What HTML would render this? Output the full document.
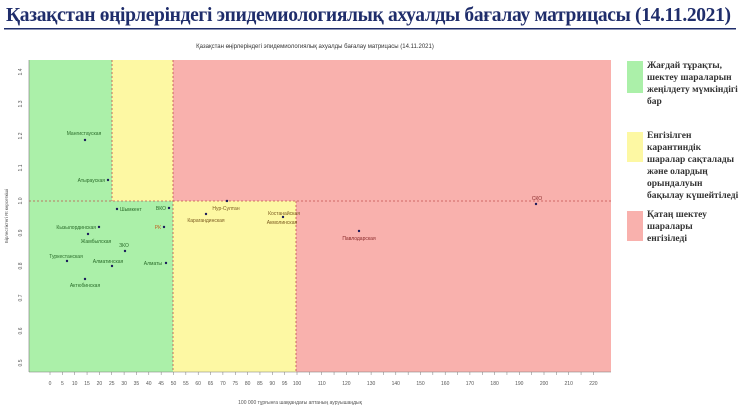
<!DOCTYPE html>
<html><head><meta charset="utf-8"><style>
body{margin:0;background:#fff;width:740px;height:413px;overflow:hidden;font-family:"Liberation Sans",sans-serif}
svg{position:absolute;left:0;top:0}
.t{font-family:"Liberation Sans",sans-serif}
.lg{font-family:"Liberation Serif",serif;font-weight:bold;font-size:9.5px;fill:#333}
</style></head><body>
<svg width="740" height="413" viewBox="0 0 740 413">
<text x="6" y="21" font-family="Liberation Serif,serif" font-weight="bold" font-size="19.5" fill="#1f2d6b" textLength="725">Қазақстан өңірлеріндегі эпидемиологиялық ахуалды бағалау матрицасы  (14.11.2021)</text>
<rect x="4" y="28" width="732" height="1.5" fill="#1f2d6b"/>
<text x="315" y="48" font-size="6" fill="#333" text-anchor="middle" class="t">Қазақстан өңірлеріндегі эпидемиологиялық ахуалды бағалау матрицасы  (14.11.2021)</text>
<!-- regions -->
<rect x="29" y="60" width="582" height="312" fill="#f9b1ad"/>
<rect x="29" y="60" width="83" height="141" fill="#abf0a9"/>
<rect x="112" y="60" width="61" height="141" fill="#fdf8a3"/>
<rect x="29" y="201" width="144" height="171" fill="#abf0a9"/>
<rect x="173" y="201" width="123" height="171" fill="#fdf8a3"/>
<g stroke="#c0504d" stroke-width="0.8" stroke-dasharray="2,2" fill="none">
<line x1="29" y1="201" x2="611" y2="201"/>
<line x1="112" y1="60" x2="112" y2="201"/>
<line x1="173" y1="60" x2="173" y2="372"/>
<line x1="296" y1="201" x2="296" y2="372"/>
</g>
<line x1="29" y1="60" x2="29" y2="372" stroke="#777" stroke-width="0.6"/>
<line x1="29" y1="372" x2="611" y2="372" stroke="#777" stroke-width="0.6"/>
<!-- y ticks -->
<g font-size="5" fill="#555" class="t">
<g transform="translate(22,72) rotate(-90)"><text text-anchor="middle">1.4</text></g>
<g transform="translate(22,104) rotate(-90)"><text text-anchor="middle">1.3</text></g>
<g transform="translate(22,136) rotate(-90)"><text text-anchor="middle">1.2</text></g>
<g transform="translate(22,168) rotate(-90)"><text text-anchor="middle">1.1</text></g>
<g transform="translate(22,201) rotate(-90)"><text text-anchor="middle">1.0</text></g>
<g transform="translate(22,233) rotate(-90)"><text text-anchor="middle">0.9</text></g>
<g transform="translate(22,266) rotate(-90)"><text text-anchor="middle">0.8</text></g>
<g transform="translate(22,298) rotate(-90)"><text text-anchor="middle">0.7</text></g>
<g transform="translate(22,331) rotate(-90)"><text text-anchor="middle">0.6</text></g>
<g transform="translate(22,363) rotate(-90)"><text text-anchor="middle">0.5</text></g>
<g transform="translate(8,216) rotate(-90)"><text text-anchor="middle" font-size="4.5">Бірлестіктегі Rt көрсеткіші</text></g>
</g>
<!-- x ticks -->
<g id="xt" font-size="5" fill="#555" class="t" text-anchor="middle"></g>
<text x="300" y="404" font-size="5" fill="#555" text-anchor="middle" class="t">100 000 тұрғынға шаққандағы аптаның ауруышаңдық</text>
<!-- points -->
<g fill="#1a1a5a">
<circle cx="85" cy="140" r="1.2"/><circle cx="108" cy="180" r="1.2"/><circle cx="117" cy="209" r="1.2"/>
<circle cx="169" cy="208" r="1.2"/><circle cx="164" cy="227" r="1.2"/><circle cx="99" cy="227" r="1.2"/>
<circle cx="88" cy="234" r="1.2"/><circle cx="125" cy="251" r="1.2"/><circle cx="67" cy="261" r="1.2"/>
<circle cx="112" cy="266" r="1.2"/><circle cx="166" cy="263" r="1.2"/><circle cx="85" cy="279" r="1.2"/>
<circle cx="227" cy="201" r="1.2"/><circle cx="206" cy="214" r="1.2"/><circle cx="283" cy="217" r="1.2"/>
<circle cx="359" cy="231" r="1.2"/><circle cx="536" cy="204" r="1.2"/>
</g>
<g font-size="5" fill="#2a6b2a" class="t">
<text x="84" y="135" text-anchor="middle">Мангистауская</text>
<text x="105" y="182" text-anchor="end">Атырауская</text>
<text x="120" y="211">Шымкент</text>
<text x="166" y="210" text-anchor="end">ВКО</text>
<text x="161" y="229" text-anchor="end" fill="#c06020">РК</text>
<text x="96" y="229" text-anchor="end">Кызылординская</text>
<text x="96" y="243" text-anchor="middle">Жамбылская</text>
<text x="124" y="247" text-anchor="middle">ЗКО</text>
<text x="66" y="258" text-anchor="middle">Туркестанская</text>
<text x="108" y="263" text-anchor="middle">Алматинская</text>
<text x="162" y="265" text-anchor="end">Алматы</text>
<text x="85" y="287" text-anchor="middle">Актюбинская</text>
</g>
<g font-size="5" fill="#7a5a20" class="t">
<text x="226" y="210" text-anchor="middle">Нур-Султан</text>
<text x="206" y="222" text-anchor="middle">Карагандинская</text>
<text x="284" y="215" text-anchor="middle">Костанайская</text>
<text x="282" y="224" text-anchor="middle">Акмолинская</text>
</g>
<g font-size="5" fill="#8a2a2a" class="t">
<text x="359" y="240" text-anchor="middle">Павлодарская</text>
<text x="537" y="200" text-anchor="middle">СКО</text>
</g>
<!-- legend -->
<rect x="627" y="61" width="16" height="32" fill="#abf0a9"/>
<rect x="627" y="132" width="16" height="30" fill="#fdf8a3"/>
<rect x="627" y="211" width="16" height="30" fill="#f9b1ad"/>
<text class="lg"><tspan x="647" y="68">Жағдай тұрақты,</tspan><tspan x="647" y="80">шектеу шараларын</tspan><tspan x="647" y="92">жеңілдету мүмкіндігі</tspan><tspan x="647" y="104">бар</tspan></text>
<text class="lg"><tspan x="647" y="138">Енгізілген</tspan><tspan x="647" y="150">карантиндік</tspan><tspan x="647" y="162">шаралар сақталады</tspan><tspan x="647" y="174">және олардың</tspan><tspan x="647" y="186">орындалуын</tspan><tspan x="647" y="198">бақылау күшейтіледі</tspan></text>
<text class="lg"><tspan x="647" y="217">Қатаң шектеу</tspan><tspan x="647" y="229">шаралары</tspan><tspan x="647" y="241">енгізіледі</tspan></text>
</svg>
<script>
var g=document.getElementById('xt'),s='';
for(var v=0;v<=220;v+=5){var x=50+2.47*v;var lab=(v<=100)||(v%10==0);
s+='<line x1="'+x+'" y1="372" x2="'+x+'" y2="375" stroke="#777" stroke-width="0.5"/>';
if(lab)s+='<text x="'+x+'" y="385">'+v+'</text>';}
g.innerHTML=s;
</script>
</body></html>
